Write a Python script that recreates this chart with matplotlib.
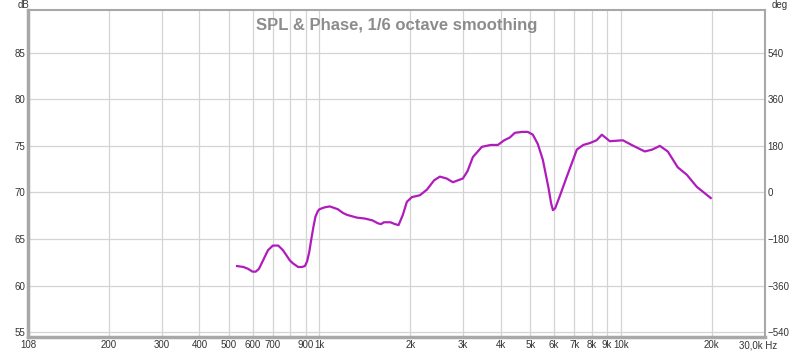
import numpy as np
import matplotlib
matplotlib.use("Agg")
import matplotlib.pyplot as plt
from matplotlib.ticker import FixedLocator, NullLocator

plt.rcParams['font.family'] = ['Liberation Sans', 'DejaVu Sans']

# SPL (Hz, dB)
freq = [533, 560, 580, 600, 615, 630, 650, 675, 701, 730, 757, 798, 816, 850, 875, 895,
        910, 925, 940, 955, 970, 988, 1000, 1040, 1083, 1151, 1197, 1233, 1331, 1415, 1500,
        1560, 1600, 1636, 1720, 1780, 1830, 1891, 1950, 2026, 2153, 2272, 2400, 2509, 2640,
        2771, 2990, 3100, 3228, 3458, 3700, 3907, 4100, 4281, 4447, 4700, 4911, 5103, 5300,
        5508, 5750, 5870, 5950, 6050, 6250, 6615, 7141, 7500, 7885, 8300, 8643, 9188, 10144,
        11000, 12000, 12700, 13460, 14300, 15430, 16540, 17850, 19860]
spl = [62.1, 62.0, 61.8, 61.5, 61.5, 61.8, 62.7, 63.8, 64.3, 64.3, 63.8, 62.7, 62.4, 62.0, 62.0,
       62.1, 62.6, 63.6, 65.0, 66.3, 67.4, 68.0, 68.2, 68.4, 68.5, 68.2, 67.8, 67.6, 67.3, 67.2,
       67.0, 66.7, 66.6, 66.8, 66.8, 66.6, 66.5, 67.6, 69.0, 69.5, 69.7, 70.3, 71.3, 71.7, 71.5,
       71.1, 71.5, 72.3, 73.8, 74.9, 75.1, 75.1, 75.6, 75.9, 76.4, 76.5, 76.5, 76.2, 75.2,
       73.5, 70.5, 68.8, 68.1, 68.3, 69.5, 71.7, 74.6, 75.1, 75.3, 75.6, 76.2, 75.5, 75.6,
       75.0, 74.4, 74.6, 75.0, 74.4, 72.7, 71.9, 70.6, 69.4]

xticks = [108, 200, 300, 400, 500, 600, 700, 800, 900, 1000, 2000, 3000, 4000, 5000,
          6000, 7000, 8000, 9000, 10000, 20000]
xlabels = ['108', '200', '300', '400', '500', '600', '700', '', '900', '1k', '2k', '3k',
           '4k', '5k', '6k', '7k', '8k', '9k', '10k', '20k']
dbticks = [55, 60, 65, 70, 75, 80, 85]
degticks = [-540, -360, -180, 0, 180, 360, 540]

fig = plt.figure(figsize=(8, 3.52), dpi=100)
ax = fig.add_axes([0.035, 0.043, 0.921, 0.929])

ax.semilogx(freq, spl, color='#b01cbc', lw=1.6)

ax.set_xlim(108, 30000)
ax.set_ylim(54.5, 89.6)
ax.xaxis.set_major_locator(FixedLocator(xticks))
ax.xaxis.set_minor_locator(NullLocator())
ax.set_xticklabels(xlabels)
ax.set_yticks(dbticks)
ax.grid(True, color='#d4d4d4', lw=0.9)
ax.tick_params(length=0, labelsize=7, colors='#333333', pad=2)
for s in ax.spines.values():
    s.set_color('#a8a8a8')
    s.set_linewidth(1.5)
ax.spines['left'].set_linewidth(2.5)
ax.spines['bottom'].set_linewidth(2.5)

ax2 = ax.twinx()
ax2.set_ylim((54.5 - 70) * 36, (89.6 - 70) * 36)
ax2.set_yticks(degticks)
ax2.tick_params(length=0, labelsize=7, colors='#333333', pad=2)
for s in ax2.spines.values():
    s.set_visible(False)

fig.text(0.956 + 0.016, 0.018, '30,0k Hz', fontsize=7, color='#333333', ha='right', va='center')
fig.text(0.022, 0.985, 'dB', fontsize=7, color='#333333', ha='left', va='center')
fig.text(0.965, 0.985, 'deg', fontsize=7, color='#333333', ha='left', va='center')
ax.text(0.5, 0.975, 'SPL & Phase, 1/6 octave smoothing', transform=ax.transAxes,
        ha='center', va='top', fontsize=12, fontweight='bold', color='#8c8c8c')

fig.savefig('out.png', dpi=100)
